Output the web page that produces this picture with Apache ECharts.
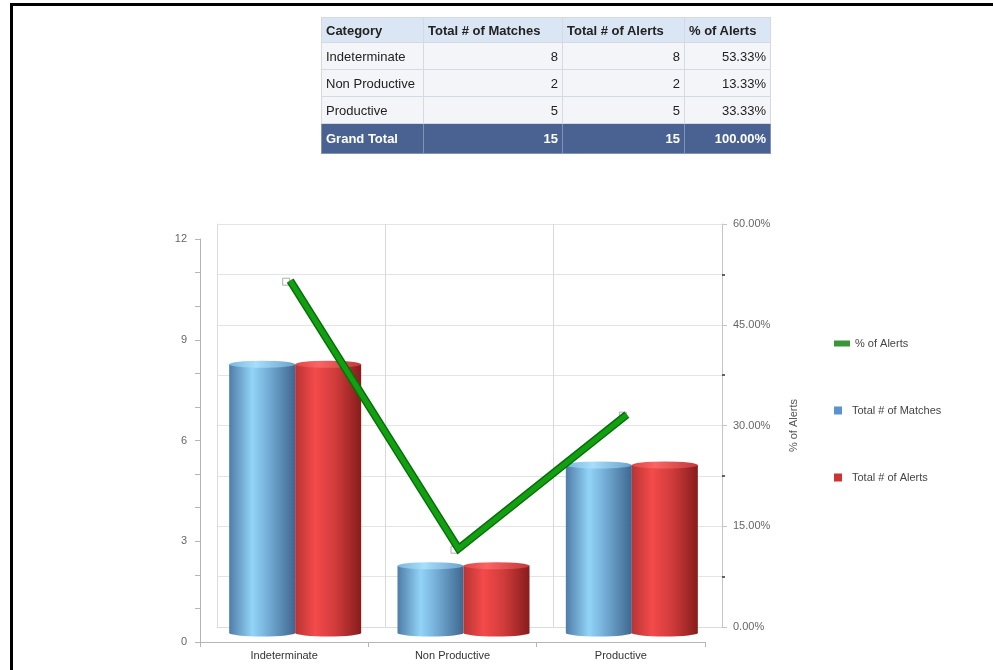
<!DOCTYPE html>
<html>
<head>
<meta charset="utf-8">
<script src="https://cdn.jsdelivr.net/npm/echarts@6/dist/echarts.min.js"></script>
<style>
  html, body { margin: 0; padding: 0; background: #fff; }
  #page { position: relative; width: 993px; height: 670px; overflow: hidden; background: #fff; }
  #frame { position: absolute; left: 10px; top: 3px; width: 990px; height: 700px;
           border-top: 3px solid #000; border-left: 3px solid #000; }
  #chart { position: absolute; left: 0; top: 0; width: 993px; height: 670px; }
  #summary { position: absolute; left: 321px; top: 17px; border-collapse: collapse;
             font-family: "Liberation Sans", Arial, sans-serif; font-size: 13px; color: #222; }
  #summary th, #summary td { border: 1px solid #d4d9e2; padding: 0 4px; height: 26px; white-space: nowrap; }
  #summary th { background: #dbe6f4; font-weight: bold; color: #222; text-align: left; height: 24px; }
  #summary td { background: #f3f5f9; }
  #summary td.num { text-align: right; }
  #summary tr.total td { background: #4a6291; color: #fff; font-weight: bold; height: 29px; border-color: #7f93b8; }
</style>
</head>
<body>
<div id="page">
  <div id="chart"></div>
  <div id="frame"></div>
  <table id="summary"></table>
</div>
<script>
// Categories and values
const categories = ['Indeterminate', 'Non Productive', 'Productive'];
const totalMatches = [8, 2, 5];
const totalAlerts = [8, 2, 5];
const pctAlerts = [53.33, 13.33, 33.33];

// Summary table text
const tableHeaders = ['Category', 'Total # of Matches', 'Total # of Alerts', '% of Alerts'];
const grandTotalLabel = 'Grand Total';
const grandTotalMatches = 15;
const grandTotalAlerts = 15;
const grandTotalPct = 100;

// Build the summary table
(function buildTable() {
  const t = document.getElementById('summary');
  const colWidths = [93, 130, 113, 77];
  let html = '<tr>' + tableHeaders.map((h, i) =>
    '<th style="width:' + colWidths[i] + 'px">' + h + '</th>').join('') + '</tr>';
  categories.forEach((c, i) => {
    html += '<tr><td>' + c + '</td><td class="num">' + totalMatches[i] + '</td><td class="num">' +
      totalAlerts[i] + '</td><td class="num">' + pctAlerts[i].toFixed(2) + '%</td></tr>';
  });
  html += '<tr class="total"><td>' + grandTotalLabel + '</td><td class="num">' + grandTotalMatches +
    '</td><td class="num">' + grandTotalAlerts + '</td><td class="num">' + grandTotalPct.toFixed(2) + '%</td></tr>';
  t.innerHTML = html;
})();

const FONT = '"Liberation Sans", Arial, sans-serif';

// Cylinder shading
function grad(stops) {
  return new echarts.graphic.LinearGradient(0, 0, 1, 0, stops.map(s => ({ offset: s[0], color: s[1] })));
}
const blueBody = grad([[0, '#4f7ca8'], [0.35, '#92d4f8'], [0.55, '#79b4dc'], [1, '#3f6790']]);
const redBody = grad([[0, '#b83434'], [0.3, '#f44a4a'], [0.6, '#d23c3c'], [1, '#871c1c']]);
const blueCap = grad([[0, '#7ab6df'], [0.4, '#a8defa'], [1, '#6aa2cc']]);
const redCap = grad([[0, '#e04646'], [0.35, '#fa6464'], [1, '#c23a3a']]);

const chart = echarts.init(document.getElementById('chart'), null, { renderer: 'canvas' });

const hiddenCat = { type: 'category', data: categories, show: false };

chart.setOption({
  animation: false,
  backgroundColor: 'transparent',
  textStyle: { fontFamily: FONT },
  grid: [
    // back wall
    { left: 217, top: 224, width: 505, height: 403 },
    // front axes
    { left: 200, top: 239, width: 505, height: 403 },
    // cylinders
    { left: 211, top: 230, width: 505, height: 403 },
    // percentage line
    { left: 206, top: 236, width: 505, height: 402 }
  ],
  xAxis: [
    { type: 'category', data: categories, gridIndex: 0,
      axisLine: { show: true, lineStyle: { color: '#dcdcdc' } },
      axisTick: { show: false }, axisLabel: { show: false },
      splitLine: { show: true, lineStyle: { color: '#d9d9d9' } } },
    { type: 'category', data: categories, gridIndex: 1,
      axisLine: { show: true, lineStyle: { color: '#b5b5b5' } },
      axisTick: { show: true, length: 5, lineStyle: { color: '#b5b5b5' } },
      axisLabel: { color: '#333', fontSize: 11, margin: 8 },
      splitLine: { show: false } },
    Object.assign({ gridIndex: 2 }, hiddenCat),
    Object.assign({ gridIndex: 2 }, hiddenCat),
    Object.assign({ gridIndex: 3 }, hiddenCat)
  ],
  yAxis: [
    { type: 'value', gridIndex: 0, min: 0, max: 12, interval: 1.5, position: 'left',
      axisLine: { show: true, lineStyle: { color: '#dcdcdc' } },
      axisTick: { show: false }, axisLabel: { show: false },
      splitLine: { show: true, lineStyle: { color: '#e4e4e4' } } },
    { type: 'value', gridIndex: 0, min: 0, max: 60, interval: 15, position: 'right',
      name: '% of Alerts', nameLocation: 'middle', nameRotate: 90, nameGap: 66,
      nameTextStyle: { color: '#555', fontSize: 11 },
      axisLine: { show: true, lineStyle: { color: '#c4c4c4' } },
      axisTick: { show: true, length: 5, lineStyle: { color: '#c4c4c4' } },
      minorTick: { show: true, splitNumber: 2, length: 3, lineStyle: { color: '#333', width: 1.5 } },
      axisLabel: { color: '#666', fontSize: 11, margin: 11, formatter: v => v.toFixed(2) + '%' },
      splitLine: { show: false } },
    { type: 'value', gridIndex: 1, min: 0, max: 12, interval: 3, position: 'left',
      axisLine: { show: true, lineStyle: { color: '#b5b5b5' } },
      axisTick: { show: true, length: 5, lineStyle: { color: '#b5b5b5' } },
      minorTick: { show: true, splitNumber: 3, length: 5, lineStyle: { color: '#b5b5b5' } },
      axisLabel: { color: '#666', fontSize: 11, margin: 13 },
      splitLine: { show: false } },
    { type: 'value', gridIndex: 2, min: 0, max: 12, show: false },
    { type: 'value', gridIndex: 3, min: 0, max: 60, show: false }
  ],
  legend: [
    { data: [{ name: '% of Alerts', icon: 'rect', itemStyle: { color: '#0a7a0a', borderWidth: 0 } }],
      left: 829, top: 333, itemWidth: 16, itemHeight: 6, selectedMode: false,
      textStyle: { color: '#444', fontSize: 11 } },
    { data: [{ name: 'Total # of Matches', icon: 'rect', itemStyle: { color: '#5b93cf' } }],
      left: 829, top: 400, itemWidth: 8, itemHeight: 8, selectedMode: false,
      textStyle: { color: '#444', fontSize: 11, padding: [0, 0, 0, 5] } },
    { data: [{ name: 'Total # of Alerts', icon: 'rect', itemStyle: { color: '#cc3333' } }],
      left: 829, top: 467, itemWidth: 8, itemHeight: 8, selectedMode: false,
      textStyle: { color: '#444', fontSize: 11, padding: [0, 0, 0, 5] } }
  ],
  series: [
    // cylinder bodies
    { name: 'Total # of Matches', type: 'bar', xAxisIndex: 2, yAxisIndex: 3,
      data: totalMatches, barWidth: 66, barGap: '0%', z: 3,
      itemStyle: { color: blueBody } },
    { name: 'Total # of Alerts', type: 'bar', xAxisIndex: 2, yAxisIndex: 3,
      data: totalAlerts, barWidth: 66, barGap: '0%', z: 3,
      itemStyle: { color: redBody } },
    // cylinder tops
    { name: 'Total # of Matches', type: 'pictorialBar', xAxisIndex: 2, yAxisIndex: 3,
      data: totalMatches, barWidth: 66, barGap: '0%', symbol: 'circle',
      symbolSize: [66, 7], symbolPosition: 'end', symbolOffset: [0, '-50%'], z: 4,
      itemStyle: { color: blueCap } },
    { name: 'Total # of Alerts', type: 'pictorialBar', xAxisIndex: 2, yAxisIndex: 3,
      data: totalAlerts, barWidth: 66, barGap: '0%', symbol: 'circle',
      symbolSize: [66, 7], symbolPosition: 'end', symbolOffset: [0, '-50%'], z: 4,
      itemStyle: { color: redCap } },
    // cylinder bottoms
    { name: 'Total # of Matches', type: 'pictorialBar', xAxisIndex: 3, yAxisIndex: 3,
      data: totalMatches, barWidth: 66, barGap: '0%', symbol: 'circle',
      symbolSize: [66, 7], symbolPosition: 'start', symbolOffset: [0, '50%'], z: 2,
      itemStyle: { color: blueBody } },
    { name: 'Total # of Alerts', type: 'pictorialBar', xAxisIndex: 3, yAxisIndex: 3,
      data: totalAlerts, barWidth: 66, barGap: '0%', symbol: 'circle',
      symbolSize: [66, 7], symbolPosition: 'start', symbolOffset: [0, '50%'], z: 2,
      itemStyle: { color: redBody } },
    // percentage markers
    { name: '% of Alerts', type: 'scatter', xAxisIndex: 4, yAxisIndex: 4,
      data: pctAlerts, symbol: 'rect', symbolSize: 7, symbolOffset: [-4, 1], z: 5,
      itemStyle: { color: 'rgba(255,255,255,0.6)', borderColor: '#9a9a9a', borderWidth: 1 } },
    // percentage line: darker edge then bright core
    { name: '% of Alerts', type: 'line', xAxisIndex: 4, yAxisIndex: 4,
      data: pctAlerts, showSymbol: false, symbol: 'none', z: 6,
      lineStyle: { color: '#096e09', width: 8, cap: 'butt', join: 'miter' } },
    { name: '% of Alerts', type: 'line', xAxisIndex: 4, yAxisIndex: 4,
      data: pctAlerts, showSymbol: false, symbol: 'none', z: 7,
      lineStyle: { color: '#12a012', width: 5, cap: 'butt', join: 'miter' } }
  ]
});
</script>
</body>
</html>
